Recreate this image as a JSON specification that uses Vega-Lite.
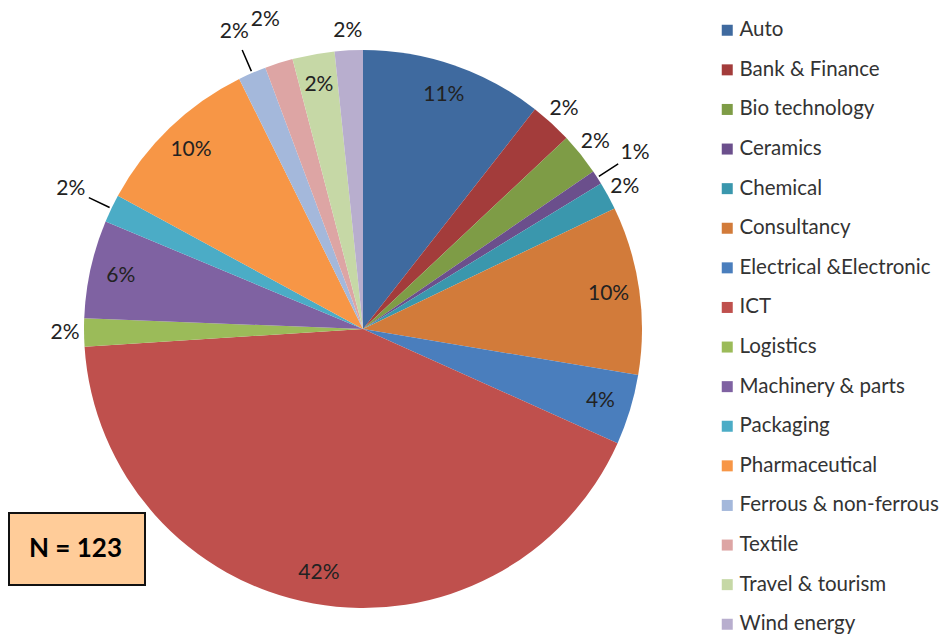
{
  "$schema": "https://vega.github.io/schema/vega-lite/v6.json",
  "width": 726,
  "height": 658,
  "autosize": {"type": "none"},
  "padding": {"left": 0, "top": 0, "right": 221, "bottom": 0},
  "background": "white",
  "config": {"view": {"stroke": null}, "font": "Lato", "legend": {"strokeWidth": 2}},
  "layer": [
    {
      "data": {
        "values": [
          {"rank": 1, "sector": "Auto", "count": 13, "label": "11%"},
          {"rank": 2, "sector": "Bank & Finance", "count": 3, "label": "2%"},
          {"rank": 3, "sector": "Bio technology", "count": 3, "label": "2%"},
          {"rank": 4, "sector": "Ceramics", "count": 1, "label": "1%"},
          {"rank": 5, "sector": "Chemical", "count": 2, "label": "2%"},
          {"rank": 6, "sector": "Consultancy", "count": 12, "label": "10%"},
          {"rank": 7, "sector": "Electrical &Electronic", "count": 5, "label": "4%"},
          {"rank": 8, "sector": "ICT", "count": 52, "label": "42%"},
          {"rank": 9, "sector": "Logistics", "count": 2, "label": "2%"},
          {"rank": 10, "sector": "Machinery & parts", "count": 7, "label": "6%"},
          {"rank": 11, "sector": "Packaging", "count": 2, "label": "2%"},
          {"rank": 12, "sector": "Pharmaceutical", "count": 12, "label": "10%"},
          {"rank": 13, "sector": "Ferrous & non-ferrous", "count": 2, "label": "2%"},
          {"rank": 14, "sector": "Textile", "count": 2, "label": "2%"},
          {"rank": 15, "sector": "Travel & tourism", "count": 3, "label": "2%"},
          {"rank": 16, "sector": "Wind energy", "count": 2, "label": "2%"}
        ]
      },
      "encoding": {
        "theta": {"field": "count", "type": "quantitative", "stack": true},
        "order": {"field": "rank", "type": "quantitative"}
      },
      "layer": [
        {
          "mark": {"type": "arc", "outerRadius": 279},
          "encoding": {
            "color": {
              "field": "sector",
              "type": "nominal",
              "scale": {
                "domain": ["Auto", "Bank & Finance", "Bio technology", "Ceramics", "Chemical", "Consultancy", "Electrical &Electronic", "ICT", "Logistics", "Machinery & parts", "Packaging", "Pharmaceutical", "Ferrous & non-ferrous", "Textile", "Travel & tourism", "Wind energy"],
                "range": ["#3F6A9F", "#A33C3B", "#7E9C46", "#6B4F8C", "#3A97AD", "#D27B3A", "#4A7EBD", "#BF504D", "#9BBB59", "#7F62A2", "#4BACC6", "#F79646", "#A4B8DB", "#DDA5A4", "#C6D8A6", "#B8AECE"]
              },
              "legend": {
                "orient": "none",
                "legendX": 717,
                "legendY": 20,
                "title": null,
                "padding": 0,
                "symbolType": "square",
                "symbolSize": 121,
                "symbolStrokeWidth": 0,
                "labelFont": "Lato",
                "labelFontSize": 20.5,
                "labelColor": "#333333",
                "labelOffset": 2,
                "labelLimit": 300,
                "rowPadding": 18.6
              }
            }
          }
        },
        {
          "mark": {"type": "arc", "innerRadius": 281, "outerRadius": 304, "padAngle": 0.3, "fill": null, "stroke": "black", "strokeWidth": 1.5},
          "encoding": {
            "detail": {"field": "sector", "type": "nominal"},
            "strokeOpacity": {"condition": {"test": "indexof(['Ceramics','Packaging','Ferrous & non-ferrous'], datum.sector) >= 0", "value": 1}, "value": 0}
          }
        },
        {
          "mark": {"type": "text", "radius": 248, "font": "Lato", "fontSize": 21, "color": "#222222"},
          "encoding": {
            "detail": {"field": "sector", "type": "nominal"},
            "text": {"condition": {"test": "indexof(['Auto','Consultancy','Electrical &Electronic','ICT','Machinery & parts','Pharmaceutical','Travel & tourism'], datum.sector) >= 0", "field": "label"}, "value": ""}
          }
        },
        {
          "mark": {"type": "text", "radius": 298, "font": "Lato", "fontSize": 21, "color": "#222222"},
          "encoding": {
            "detail": {"field": "sector", "type": "nominal"},
            "text": {"condition": {"test": "indexof(['Bank & Finance','Bio technology','Chemical','Logistics','Wind energy'], datum.sector) >= 0", "field": "label"}, "value": ""}
          }
        },
        {
          "mark": {"type": "text", "radius": 324, "font": "Lato", "fontSize": 21, "color": "#222222"},
          "encoding": {
            "detail": {"field": "sector", "type": "nominal"},
            "text": {"condition": {"test": "indexof(['Ceramics','Packaging','Ferrous & non-ferrous','Textile'], datum.sector) >= 0", "field": "label"}, "value": ""}
          }
        }
      ]
    },
    {
      "data": {"values": [{"note": "N = 123"}]},
      "mark": {"type": "point", "opacity": 0},
      "encoding": {
        "shape": {
          "field": "note",
          "type": "nominal",
          "legend": {
            "orient": "none",
            "legendX": 9,
            "legendY": 513,
            "title": null,
            "fillColor": "#FFCC99",
            "strokeColor": "#111111",
            "padding": 23,
            "symbolSize": 0,
            "symbolOpacity": 0,
            "symbolStrokeWidth": 0,
            "labelOffset": -29,
            "labelFont": "Lato",
            "labelFontSize": 26,
            "labelFontWeight": "bold",
            "labelColor": "black"
          }
        }
      }
    }
  ]
}
